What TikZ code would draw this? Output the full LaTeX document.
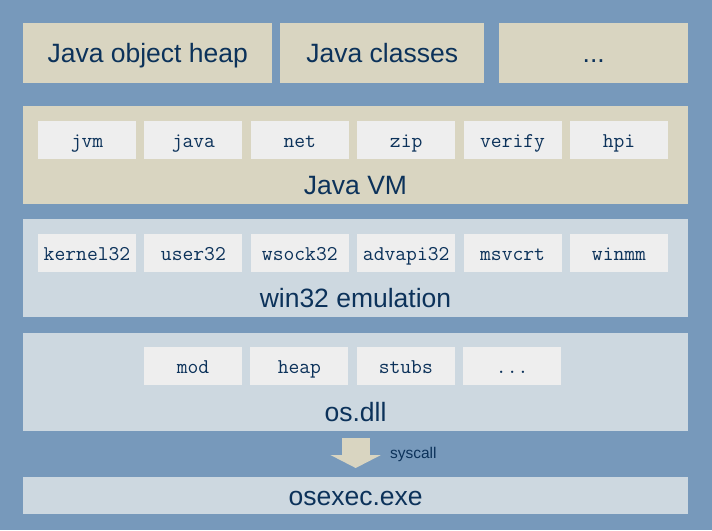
\documentclass[tikz,border=0pt]{standalone}
\usepackage{fontspec}
\setmainfont{Liberation Sans}
\usetikzlibrary{positioning, arrows.meta}
\definecolor{bgblue}{RGB}{119,153,187}
\definecolor{vmtan}{RGB}{217,213,193}
\definecolor{emugray}{RGB}{205,216,224}
\definecolor{modgray}{RGB}{238,238,238}
\definecolor{textblue}{RGB}{12,50,90}

\begin{document}
\begin{tikzpicture}[x=1pt, y=-1pt,
layerbox/.style={rectangle, inner sep=0pt, anchor=north west, text=textblue, text height=19pt, text depth=0pt, font=\fontsize{26.5}{26.5}\selectfont},
modnode/.style={rectangle, fill=modgray, inner sep=0pt, minimum width=98pt, minimum height=38pt, text=textblue, text height=15.5pt, text depth=0pt, font=\ttfamily\fontsize{21}{21}\selectfont},
layertext/.style={text=textblue, inner sep=0pt, text height=19pt, text depth=0pt, font=\fontsize{26.5}{26.5}\selectfont},
bigarrow/.style={vmtan, line width=28pt, -{Triangle[width=50pt, length=13pt]}},
node distance=8pt
]
\fill[bgblue] (0,0) rectangle (712,530);
\useasboundingbox (0,0) rectangle (712,530);

%Top row
\node[layerbox, fill=vmtan, minimum width=249pt, minimum height=60pt] (heap_node) at (23,23) {Java object heap};
\node[layerbox, fill=vmtan, minimum width=204pt, minimum height=60pt] (classes_node) at (280,23) {Java classes};
\node[layerbox, fill=vmtan, minimum width=189pt, minimum height=60pt] (more_node) at (499,23) {...};

%Layers
\node[layerbox, fill=vmtan, minimum width=665pt, minimum height=98pt] (javavm_node) at (23,106) {};
\node[layerbox, fill=emugray, minimum width=665pt, minimum height=98pt] (win32_node) at (23,219) {};
\node[layerbox, fill=emugray, minimum width=665pt, minimum height=98pt] (osdll_node) at (23,333) {};
\node[layerbox, fill=emugray, minimum width=665pt, minimum height=37pt] (osexec_node) at (23,477) {osexec.exe};

\node[layertext] (javavm_label) at (355.5,185) {Java VM};
\node[layertext] (win32_label) at (355.5,298) {win32 emulation};
\node[layertext] (osdll_label) at (355.5,412) {os.dll};

%Java VM modules
\node[modnode] (jvm_node) at (87,140) {jvm};
\node[modnode] (java_node) [right=of jvm_node] {java};
\node[modnode] (net_node) [right=of java_node] {net};
\node[modnode] (zip_node) [right=of net_node] {zip};
\node[modnode] (verify_node) [right=of zip_node] {verify};
\node[modnode] (hpi_node) [right=of verify_node] {hpi};

%win32 modules
\node[modnode] (kernel_node) at (87,253) {kernel32};
\node[modnode] (user_node) [right=of kernel_node] {user32};
\node[modnode] (wsock_node) [right=of user_node] {wsock32};
\node[modnode] (advapi_node) [right=of wsock_node] {advapi32};
\node[modnode] (msvcrt_node) [right=of advapi_node] {msvcrt};
\node[modnode] (winmm_node) [right=of msvcrt_node] {winmm};

%os.dll modules
\node[modnode] (mod_node) at (193,366) {mod};
\node[modnode] (osheap_node) [right=of mod_node] {heap};
\node[modnode] (stubs_node) [right=of osheap_node] {stubs};
\node[modnode] (osmore_node) [right=of stubs_node] {...};

%Arrow
\draw[bigarrow, shorten <=7pt, shorten >=9pt] (osdll_node.south) -- (osexec_node.north)
  node[midway, right=17pt, text=textblue, font=\fontsize{15.5}{15.5}\selectfont] (syscall_label) {syscall};

\end{tikzpicture}
\end{document}
